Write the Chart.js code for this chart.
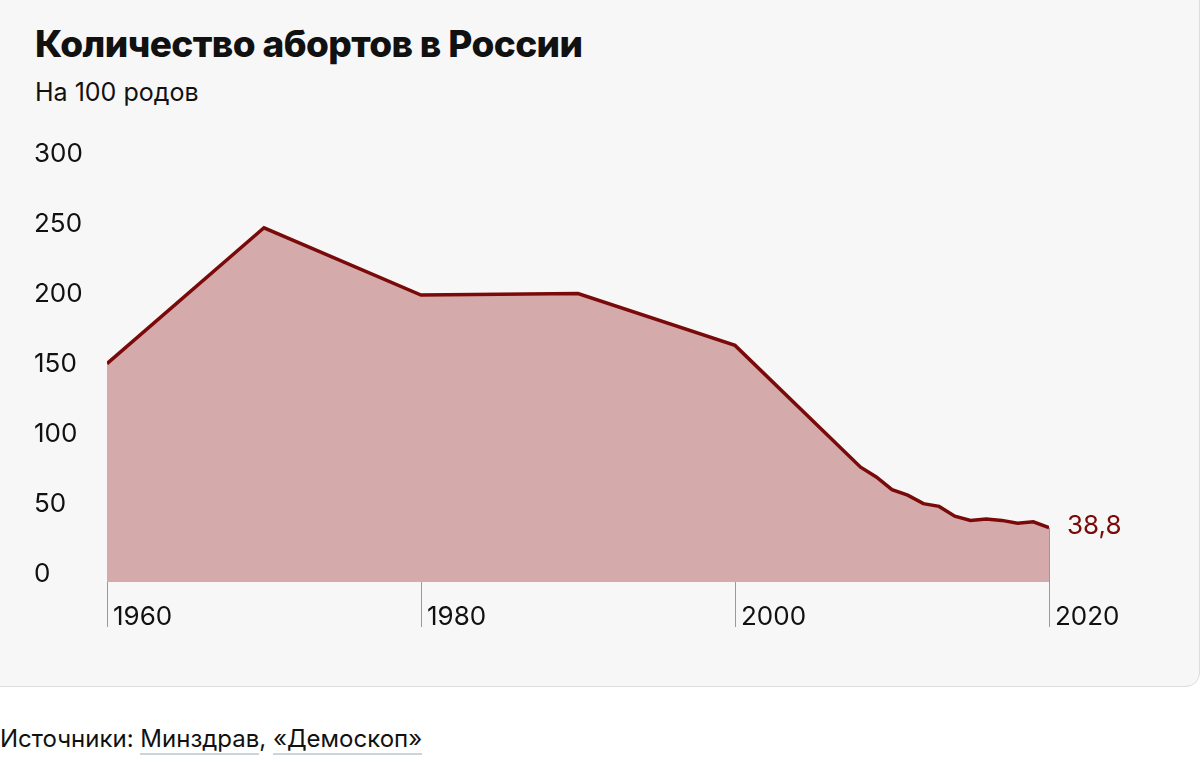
<!DOCTYPE html>
<html><head><meta charset="utf-8">
<script src="https://cdn.jsdelivr.net/npm/chart.js@4"></script>
<style>
body{margin:0;background:#fff;font-family:Inter,"Noto Sans",sans-serif;width:1200px;height:768px;overflow:hidden}
#card{position:absolute;left:-2px;top:-2px;width:1200px;height:687px;background:#f7f7f7;border:1px solid #ddd;border-radius:0 0 14px 0}
h1{position:absolute;left:36px;top:22px;margin:0;font-size:37px;font-weight:800;color:#111;letter-spacing:-0.6px}
#sub{position:absolute;left:36px;top:78px;font-size:25px;color:#111}
#wrap{position:absolute;left:0;top:0;width:1200px;height:687px}
#src{position:absolute;left:0;top:724px;font-size:24px;color:#111}
#src span{border-bottom:2px solid #cdd3dc}
</style></head><body>
<div id="card">
<h1>Количество абортов в России</h1>
<div id="sub">На 100 родов</div>
<div id="wrap"><canvas id="c"></canvas></div>
</div>
<div id="src">Источники: <span>Минздрав</span>, <span>«Демоскоп»</span></div>
<script>
var years = [1960, 1970, 1980, 1990, 2000, 2008, 2009, 2010, 2011, 2012, 2013, 2014, 2015, 2016, 2017, 2018, 2019, 2020];
var values = [156, 253, 205, 206, 169, 82, 75, 66, 62, 56, 54, 47, 44, 45, 44, 42, 43, 38.8];
var xTicks = [1960, 1980, 2000, 2020];
var yTicks = [0, 50, 100, 150, 200, 250, 300];
var lastLabel = '38,8';

var decor = {
  id: 'decor',
  beforeDatasetsDraw: function (chart) {
    var c = chart.ctx, x = chart.scales.x, y = chart.scales.y;
    c.save();
    c.strokeStyle = '#9a9a9a'; c.lineWidth = 1;
    xTicks.forEach(function (t) {
      var i = years.indexOf(t);
      var px = Math.round(x.getPixelForValue(t)) + 0.5;
      c.beginPath(); c.moveTo(px, y.getPixelForValue(values[i])); c.lineTo(px, y.getPixelForValue(0) + 45); c.stroke();
    });
    c.restore();
  },
  afterDatasetsDraw: function (chart) {
    var c = chart.ctx, x = chart.scales.x, y = chart.scales.y;
    c.save();
    c.font = '26px Inter, "Noto Sans", sans-serif';
    c.fillStyle = '#111'; c.textBaseline = 'middle'; c.textAlign = 'left';
    yTicks.forEach(function (t) { c.fillText(String(t), 35, y.getPixelForValue(t) - 8); });
    xTicks.forEach(function (t) { c.fillText(String(t), x.getPixelForValue(t) + 6, y.getPixelForValue(0) + 35); });
    c.fillStyle = '#7a0a0a';
    c.fillText(lastLabel, x.getPixelForValue(2020) + 18, y.getPixelForValue(38.8) - 1);
    c.restore();
  }
};

new Chart(document.getElementById('c'), {
  type: 'line',
  data: { datasets: [{
    data: years.map(function (yr, i) { return { x: yr, y: values[i] }; }),
    borderColor: '#7a0a0a', borderWidth: 3.5, backgroundColor: '#d4aaab',
    fill: 'origin', pointRadius: 0, tension: 0
  }] },
  options: {
    responsive: true, maintainAspectRatio: false, animation: false,
    layout: { padding: { left: 108, right: 150, top: 163, bottom: 104 } },
    plugins: { legend: { display: false }, tooltip: { enabled: false } },
    scales: {
      x: { type: 'linear', min: 1960, max: 2020, display: false },
      y: { min: 0, max: 300, display: false }
    }
  },
  plugins: [decor]
});
</script>
</body></html>
